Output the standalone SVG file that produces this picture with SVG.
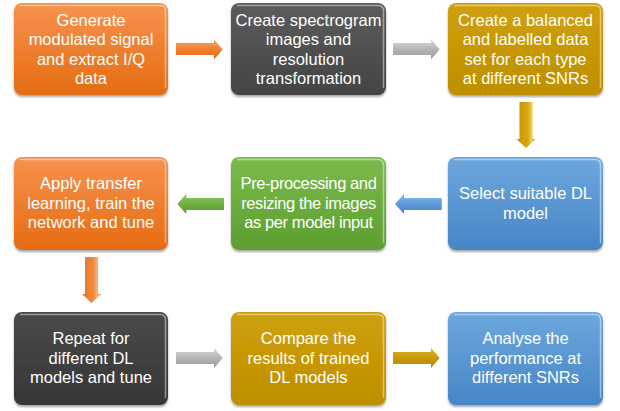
<svg xmlns="http://www.w3.org/2000/svg" width="620" height="411" viewBox="0 0 620 411">
  <style>
    .box { stroke: none; filter: url(#shadow); }
    .bevel { fill: none; stroke: #ffffff; stroke-opacity: 0.45; stroke-width: 1.5; }
    .label { font-family: "Liberation Sans", Arial, sans-serif; font-size: 16.5px; fill: #ffffff; text-anchor: middle; }
  </style>
  <defs>
    <filter id="shadow" x="-10%" y="-10%" width="120%" height="125%">
      <feGaussianBlur in="SourceAlpha" stdDeviation="1.2"/>
      <feOffset dx="0" dy="1.5" result="b"/>
      <feComponentTransfer><feFuncA type="linear" slope="0.35"/></feComponentTransfer>
      <feMerge><feMergeNode/><feMergeNode in="SourceGraphic"/></feMerge>
    </filter>
    <linearGradient id="gOrange" x1="0" y1="0" x2="0" y2="1">
      <stop offset="0" stop-color="#F7924E"/>
      <stop offset="1" stop-color="#E56C12"/>
    </linearGradient>
    <linearGradient id="gGray" x1="0" y1="0" x2="0" y2="1">
      <stop offset="0" stop-color="#5C5C5C"/>
      <stop offset="1" stop-color="#444444"/>
    </linearGradient>
    <linearGradient id="gDark" x1="0" y1="0" x2="0" y2="1">
      <stop offset="0" stop-color="#4A4A4A"/>
      <stop offset="1" stop-color="#363636"/>
    </linearGradient>
    <linearGradient id="gGold" x1="0" y1="0" x2="0" y2="1">
      <stop offset="0" stop-color="#CFA00A"/>
      <stop offset="1" stop-color="#BE8F00"/>
    </linearGradient>
    <linearGradient id="gGreen" x1="0" y1="0" x2="0" y2="1">
      <stop offset="0" stop-color="#7ABB4B"/>
      <stop offset="1" stop-color="#5E9E30"/>
    </linearGradient>
    <linearGradient id="gBlue" x1="0" y1="0" x2="0" y2="1">
      <stop offset="0" stop-color="#6EA7DE"/>
      <stop offset="1" stop-color="#4686C6"/>
    </linearGradient>
    <!-- arrow fills: light band along the arrow's axis -->
    <linearGradient id="aOrangeH" x1="0" y1="0" x2="0" y2="1">
      <stop offset="0" stop-color="#F9A466"/>
      <stop offset="0.5" stop-color="#F0802E"/>
      <stop offset="1" stop-color="#E0691A"/>
    </linearGradient>
    <linearGradient id="aGrayH" x1="0" y1="0" x2="0" y2="1">
      <stop offset="0" stop-color="#D8D8D8"/>
      <stop offset="0.5" stop-color="#B4B4B4"/>
      <stop offset="1" stop-color="#9A9A9A"/>
    </linearGradient>
    <linearGradient id="aGoldH" x1="0" y1="0" x2="0" y2="1">
      <stop offset="0" stop-color="#E2B528"/>
      <stop offset="0.5" stop-color="#C99A06"/>
      <stop offset="1" stop-color="#B88A00"/>
    </linearGradient>
    <linearGradient id="aGreenH" x1="0" y1="0" x2="0" y2="1">
      <stop offset="0" stop-color="#8DC864"/>
      <stop offset="0.5" stop-color="#6FB043"/>
      <stop offset="1" stop-color="#5A9A2E"/>
    </linearGradient>
    <linearGradient id="aBlueH" x1="0" y1="0" x2="0" y2="1">
      <stop offset="0" stop-color="#8BBBE8"/>
      <stop offset="0.5" stop-color="#5E9AD8"/>
      <stop offset="1" stop-color="#4684C4"/>
    </linearGradient>
    <linearGradient id="aGoldV" x1="0" y1="0" x2="1" y2="0">
      <stop offset="0" stop-color="#C59400"/>
      <stop offset="0.6" stop-color="#D7A612"/>
      <stop offset="0.8" stop-color="#F2CC4A"/>
      <stop offset="1" stop-color="#C59400"/>
    </linearGradient>
    <linearGradient id="aOrangeV" x1="0" y1="0" x2="1" y2="0">
      <stop offset="0" stop-color="#EA7424"/>
      <stop offset="0.6" stop-color="#F28A3E"/>
      <stop offset="0.8" stop-color="#FAB27A"/>
      <stop offset="1" stop-color="#EA7424"/>
    </linearGradient>
  </defs>

  <rect width="620" height="411" fill="#ffffff"/>

  <!-- connectors -->
  <g id="connectors">
    <path d="M176,43 H214 V39.5 L222.7,49.5 L214,59.5 V55 H176 Z" fill="url(#aOrangeH)"/>
    <path d="M393,43 H431 V39.5 L439.7,49.5 L431,59.5 V55 H393 Z" fill="url(#aGrayH)"/>
    <path d="M519.5,102 H532.5 V139 H535.5 L526,148 L516.5,139 H519.5 Z" fill="url(#aGoldV)"/>
    <path d="M441.7,198 H404 V194 L395,204 L404,214 V210 H441.7 Z" fill="url(#aBlueH)"/>
    <path d="M224,198 H186.3 V194 L177.3,204 L186.3,214 V210 H224 Z" fill="url(#aGreenH)"/>
    <path d="M85,257 H98 V294 H101 L91.5,303 L82,294 H85 Z" fill="url(#aOrangeV)"/>
    <path d="M176,352 H214 V348 L222.7,358 L214,368 V364 H176 Z" fill="url(#aGrayH)"/>
    <path d="M393,352 H431 V348 L439.7,358 L431,368 V364 H393 Z" fill="url(#aGoldH)"/>
  </g>

  <!-- row 1 -->
  <g id="generate">
    <rect class="box" x="14" y="3" width="154" height="92" rx="8" fill="url(#gOrange)"/>
    <path class="bevel" d="M20,5.5 H160 Q165.5,5.5 165.5,11 V88"/>
    <text class="label"><tspan x="91" y="25.5">Generate</tspan><tspan x="91" y="45">modulated signal</tspan><tspan x="91" y="64.5">and extract I/Q</tspan><tspan x="91" y="84">data</tspan></text>
  </g>
  <g id="spectrogram">
    <rect class="box" x="231" y="3" width="155" height="92" rx="8" fill="url(#gGray)"/>
    <path class="bevel" d="M237,5.5 H378 Q383.5,5.5 383.5,11 V88"/>
    <text class="label"><tspan x="308.5" y="25.5">Create spectrogram</tspan><tspan x="308.5" y="45">images and</tspan><tspan x="308.5" y="64.5">resolution</tspan><tspan x="308.5" y="84">transformation</tspan></text>
  </g>
  <g id="dataset">
    <rect class="box" x="448" y="3" width="155" height="92" rx="8" fill="url(#gGold)"/>
    <path class="bevel" d="M454,5.5 H595 Q600.5,5.5 600.5,11 V88"/>
    <text class="label"><tspan x="525.5" y="25.5">Create a balanced</tspan><tspan x="525.5" y="45">and labelled data</tspan><tspan x="525.5" y="64.5">set for each type</tspan><tspan x="525.5" y="84">at different SNRs</tspan></text>
  </g>

  <!-- row 2 -->
  <g id="transfer">
    <rect class="box" x="14" y="157" width="154" height="93" rx="8" fill="url(#gOrange)"/>
    <path class="bevel" d="M20,159.5 H160 Q165.5,159.5 165.5,165 V243"/>
    <text class="label"><tspan x="91" y="188.5">Apply transfer</tspan><tspan x="91" y="208.5">learning, train the</tspan><tspan x="91" y="227.5">network and tune</tspan></text>
  </g>
  <g id="preprocess">
    <rect class="box" x="231" y="157" width="155" height="93" rx="8" fill="url(#gGreen)"/>
    <path class="bevel" d="M237,159.5 H378 Q383.5,159.5 383.5,165 V243"/>
    <text class="label" letter-spacing="-0.4"><tspan x="308.5" y="188.5">Pre-processing and</tspan><tspan x="308.5" y="208.5">resizing the images</tspan><tspan x="308.5" y="227.5">as per model input</tspan></text>
  </g>
  <g id="select">
    <rect class="box" x="448" y="157" width="155" height="93" rx="8" fill="url(#gBlue)"/>
    <path class="bevel" d="M454,159.5 H595 Q600.5,159.5 600.5,165 V243"/>
    <text class="label"><tspan x="525.5" y="198.8">Select suitable DL</tspan><tspan x="525.5" y="218.8">model</tspan></text>
  </g>

  <!-- row 3 -->
  <g id="repeat">
    <rect class="box" x="14" y="312" width="154" height="93" rx="8" fill="url(#gDark)"/>
    <path class="bevel" d="M20,314.5 H160 Q165.5,314.5 165.5,320 V398"/>
    <text class="label"><tspan x="91" y="343.5">Repeat for</tspan><tspan x="91" y="363.5">different DL</tspan><tspan x="91" y="382.5">models and tune</tspan></text>
  </g>
  <g id="compare">
    <rect class="box" x="231" y="312" width="155" height="93" rx="8" fill="url(#gGold)"/>
    <path class="bevel" d="M237,314.5 H378 Q383.5,314.5 383.5,320 V398"/>
    <text class="label"><tspan x="308.5" y="343.5">Compare the</tspan><tspan x="308.5" y="363.5">results of trained</tspan><tspan x="308.5" y="382.5">DL models</tspan></text>
  </g>
  <g id="analyse">
    <rect class="box" x="448" y="312" width="155" height="93" rx="8" fill="url(#gBlue)"/>
    <path class="bevel" d="M454,314.5 H595 Q600.5,314.5 600.5,320 V398"/>
    <text class="label"><tspan x="525.5" y="343.5">Analyse the</tspan><tspan x="525.5" y="363.5">performance at</tspan><tspan x="525.5" y="382.5">different SNRs</tspan></text>
  </g>
</svg>
